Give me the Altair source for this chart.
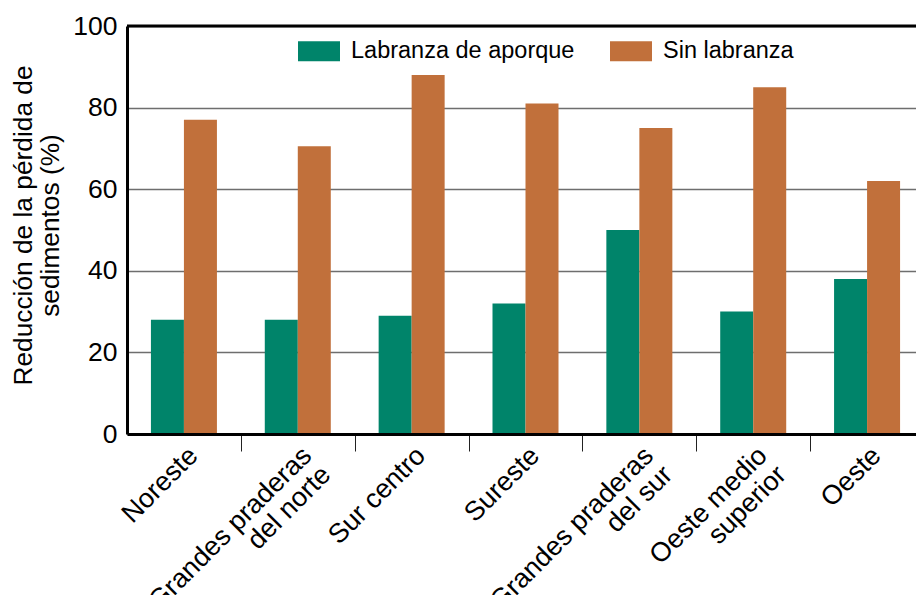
import altair as alt
import pandas as pd

categories = [
    "Noreste",
    "Grandes praderas\ndel norte",
    "Sur centro",
    "Sureste",
    "Grandes praderas\ndel sur",
    "Oeste medio\nsuperior",
    "Oeste",
]
series = ["Labranza de aporque", "Sin labranza"]
aporque = [28, 28, 29, 32, 50, 30, 38]
sin_labranza = [77, 70.5, 88, 81, 75, 85, 62]
y_ticks = [0, 20, 40, 60, 80, 100]
y_title = ["Reducción de la pérdida de", "sedimentos (%)"]
colors = ["#00846A", "#C1703B"]

rows = []
for c, a, s in zip(categories, aporque, sin_labranza):
    rows.append({"region": c, "serie": series[0], "valor": a})
    rows.append({"region": c, "serie": series[1], "valor": s})
df = pd.DataFrame(rows)

FONT = "Liberation Sans"

bars = alt.Chart(df).mark_bar().encode(
    x=alt.X(
        "region:N",
        sort=categories,
        scale=alt.Scale(paddingInner=0, paddingOuter=0),
        axis=alt.Axis(
            title=None,
            labelAngle=-45,
            labelAlign="right",
            labelBaseline="top",
            labelFontSize=27,
            labelLineHeight=27,
            labelExpr="split(datum.label, '\\n')",
            labelLimit=400,
            labelPadding=-9,
            labelOverlap=False,
            labelBound=False,
            labelFlush=False,
            labelColor="black",
            labelFont=FONT,
            tickBand="extent",
            tickSize=17,
            tickWidth=1,
            tickColor={
                "condition": {"test": "!isValid(datum.value) || datum.index < 0", "value": "transparent"},
                "value": "#222222",
            },
            domainColor="black",
            domainWidth=3,
            grid=False,
            zindex=1,
        ),
    ),
    xOffset=alt.XOffset(
        "serie:N", sort=series, scale=alt.Scale(paddingInner=0, paddingOuter=0.725)
    ),
    y=alt.Y(
        "valor:Q",
        scale=alt.Scale(domain=[0, 100], nice=False),
        axis=alt.Axis(
            values=y_ticks,
            ticks=False,
            tickSize=0,
            labelPadding=10,
            labelFontSize=26.5,
            labelColor="black",
            labelFont=FONT,
            domainColor="black",
            domainWidth=3,
            gridColor="#6e6e6e",
            gridWidth=1.5,
            title=y_title,
            titleFont=FONT,
            titleFontSize=26.3,
            titleFontWeight="normal",
            titleColor="black",
            titleLineHeight=27,
            titleAngle=270,
            titleAlign="center",
            titleBaseline="alphabetic",
            titleX=-96,
            titleY=199,
        ),
    ),
    color=alt.Color(
        "serie:N",
        sort=series,
        scale=alt.Scale(domain=series, range=colors),
        legend=alt.Legend(
            title=None,
            orient="none",
            legendX=171,
            legendY=4,
            direction="horizontal",
            symbolType="M-1,-0.476H1V0.476H-1Z",
            symbolSize=1764,
            symbolStrokeWidth=0,
            symbolOpacity=1,
            labelFontSize=23.5,
            labelFont=FONT,
            labelColor="black",
            labelOffset=11,
            labelLimit=400,
            columnPadding=35,
            padding=0,
        ),
    ),
)

top_border = alt.Chart(pd.DataFrame({"y": [100]})).mark_rule(
    color="black", strokeWidth=3
).encode(y=alt.Y("y:Q"))

chart = (
    alt.layer(bars, top_border)
    .properties(
        width=797,
        height=408,
        autosize=alt.AutoSizeParams(type="none"),
        padding={"left": 119, "top": 18, "right": -8, "bottom": 161},
    )
    .configure_view(stroke=None)
    .configure(font=FONT)
)

chart.save("out.html", embed_options={"renderer": "svg", "actions": False})
